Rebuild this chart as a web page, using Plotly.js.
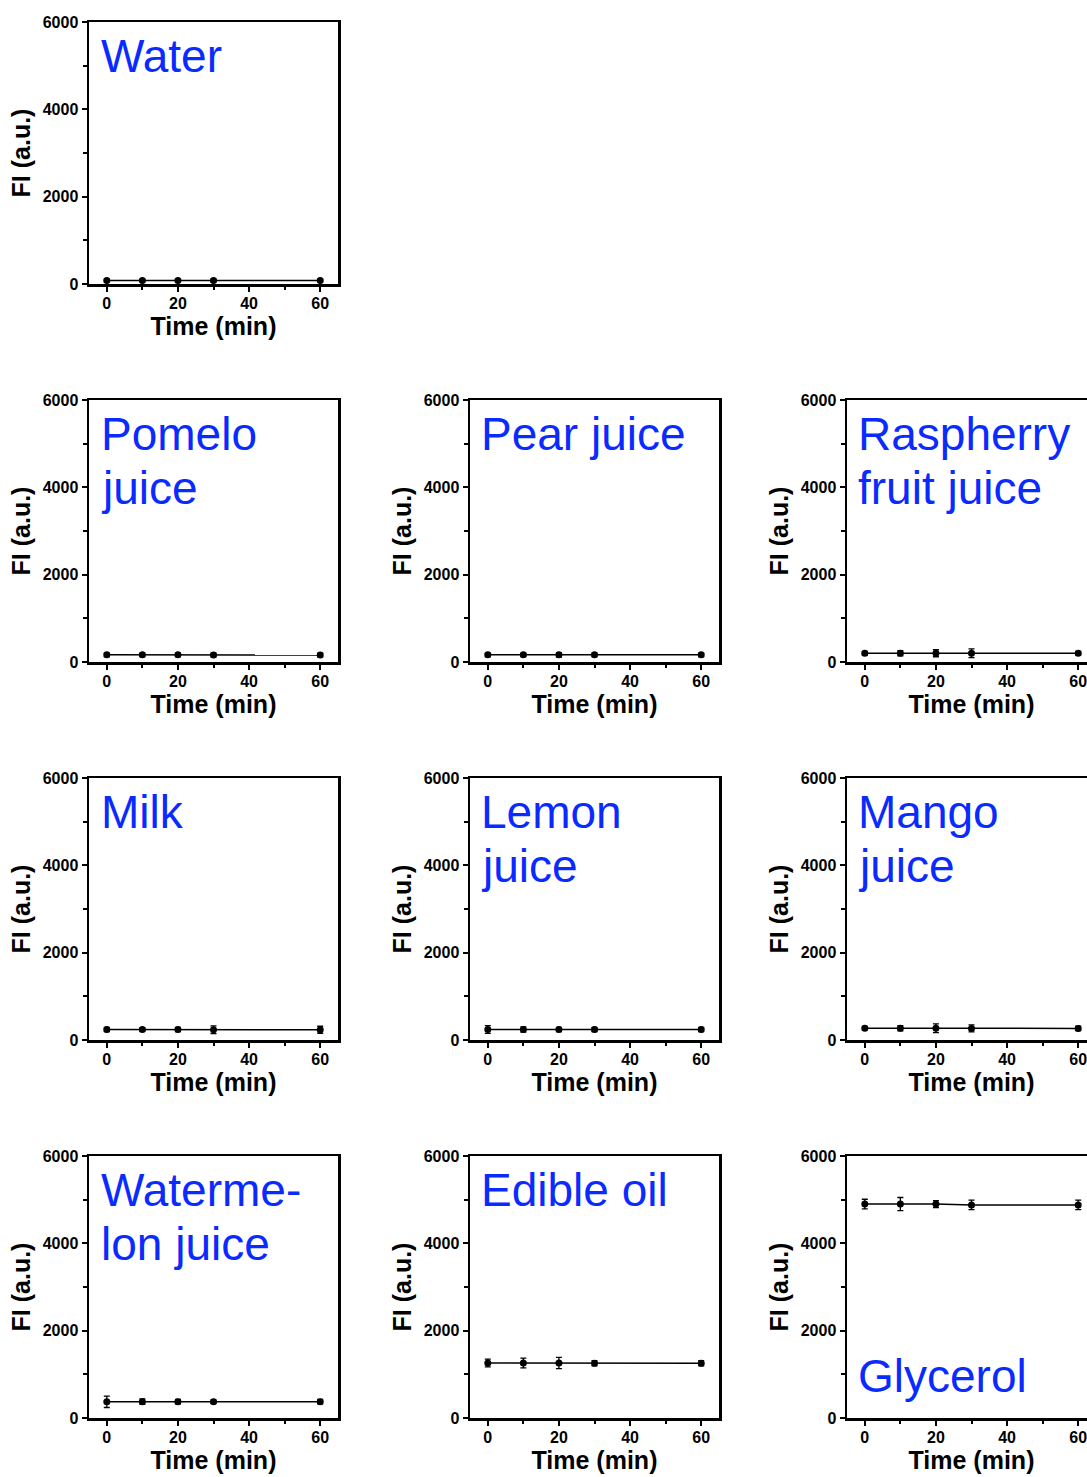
<!DOCTYPE html>
<html>
<head>
<meta charset="utf-8">
<script src="https://cdn.plot.ly/plotly-3.0.1.min.js"></script>
<style>
html,body{margin:0;padding:0;overflow:hidden;background:#fff;}
#chart{width:1100px;height:1477px;}
</style>
</head>
<body>
<div id="chart"></div>
<script>
// ---- data ----
const timeMin = [0, 10, 20, 30, 60];

const waterFI = [80, 80, 80, 80, 80];
const waterErr = [30, 30, 30, 30, 30];
const pomeloFI = [165, 165, 165, 160, 160];
const pomeloErr = [40, 40, 40, 40, 40];
const pearFI = [165, 165, 165, 165, 165];
const pearErr = [40, 40, 50, 40, 40];
const raspberryFI = [200, 200, 200, 200, 200];
const raspberryErr = [40, 60, 80, 100, 40];
const milkFI = [240, 240, 240, 235, 235];
const milkErr = [50, 40, 50, 90, 80];
const lemonFI = [240, 240, 240, 240, 240];
const lemonErr = [90, 60, 50, 50, 50];
const mangoFI = [270, 270, 270, 265, 265];
const mangoErr = [40, 60, 100, 80, 50];
const watermelonFI = [370, 375, 375, 375, 375];
const watermelonErr = [130, 60, 50, 40, 50];
const oilFI = [1260, 1260, 1260, 1255, 1255];
const oilErr = [90, 110, 130, 60, 60];
const glycerolFI = [4900, 4900, 4900, 4880, 4880];
const glycerolErr = [110, 150, 80, 110, 110];

const panelNames = [
  ["Water"],
  ["Pomelo", "juice"],
  ["Pear juice"],
  ["Raspherry", "fruit juice"],
  ["Milk"],
  ["Lemon", "juice"],
  ["Mango", "juice"],
  ["Waterme-", "lon juice"],
  ["Edible oil"],
  ["Glycerol"]
];
const panelValues = [waterFI, pomeloFI, pearFI, raspberryFI, milkFI, lemonFI, mangoFI, watermelonFI, oilFI, glycerolFI];
const panelErrors = [waterErr, pomeloErr, pearErr, raspberryErr, milkErr, lemonErr, mangoErr, watermelonErr, oilErr, glycerolErr];

// ---- layout geometry (pixels) ----
const W = 1100, H = 1477;
const colLeft = [89, 470, 847];
const panelW = 249;
const rowTop = [22, 400, 778, 1156];
const panelH = 262;
const panelPos = [[0,0],[1,0],[1,1],[1,2],[2,0],[2,1],[2,2],[3,0],[3,1],[3,2]];
const labelAtTop = [true,true,true,true,true,true,true,true,true,false];

const BLUE = "#0a2bff";
const FONT = "Liberation Sans, Arial, sans-serif";

const traces = [];
const layout = {
  width: W, height: H,
  margin: {l:0, r:0, t:0, b:0},
  paper_bgcolor: "#fff", plot_bgcolor: "#fff",
  showlegend: false,
  font: {family: FONT, color: "#000"},
  annotations: []
};

panelValues.forEach((vals, i) => {
  const n = i + 1;
  const xa = n === 1 ? "x" : "x" + n;
  const ya = n === 1 ? "y" : "y" + n;
  const [r, c] = panelPos[i];
  const x0 = colLeft[c], y0 = rowTop[r];
  traces.push({
    type: "scatter", mode: "lines+markers",
    x: timeMin, y: vals,
    xaxis: xa, yaxis: ya,
    line: {color: "#000", width: 1.5},
    marker: {color: "#000", size: 7, symbol: "circle"},
    error_y: {type: "data", array: panelErrors[i], visible: true, color: "#000", thickness: 1.3, width: 3}
  });
  const axCommon = {
    showgrid: false, zeroline: false,
    showline: true, linecolor: "#000", linewidth: 2.5, mirror: true,
    ticks: "outside", ticklen: 5, tickwidth: 2, tickcolor: "#000",
    tickfont: {family: FONT, size: 16, color: "#000", weight: "bold"},
    fixedrange: true
  };
  layout["xaxis" + (n === 1 ? "" : n)] = Object.assign({}, axCommon, {
    domain: [x0 / W, (x0 + panelW) / W],
    anchor: ya,
    range: [-5, 65],
    tickmode: "linear", tick0: 0, dtick: 20,
    ticklabelstandoff: -2,
    minor: {dtick: 10, ticks: "outside", ticklen: 3, tickwidth: 2, tickcolor: "#000", showgrid: false},
    title: {text: "Time (min)", font: {family: FONT, size: 25, color: "#000", weight: "bold"}, standoff: 4}
  });
  layout["yaxis" + (n === 1 ? "" : n)] = Object.assign({}, axCommon, {
    domain: [(H - y0 - panelH) / H, (H - y0) / H],
    anchor: xa,
    range: [0, 6000],
    tickmode: "linear", tick0: 0, dtick: 2000,
    ticklabelstandoff: 0,
    minor: {dtick: 1000, ticks: "outside", ticklen: 4, tickwidth: 2, tickcolor: "#000", showgrid: false},
    title: {text: "FI (a.u.)", font: {family: FONT, size: 25, color: "#000", weight: "bold"}, standoff: 5}
  });
  const lines = panelNames[i];
  lines.forEach((txt, k) => {
    layout.annotations.push({
      text: txt,
      xref: xa + " domain", yref: ya + " domain",
      x: c === 0 ? 0.04 : 0.035, xanchor: "left",
      y: labelAtTop[i] ? 1 - (6 + 54 * k) / panelH : (6 + 54 * (lines.length - 1 - k)) / panelH + 0.03,
      yanchor: labelAtTop[i] ? "top" : "bottom",
      showarrow: false,
      font: {family: FONT, size: 46, color: BLUE}
    });
  });
});

Plotly.newPlot("chart", traces, layout, {displayModeBar: false, staticPlot: true});
</script>
</body>
</html>
